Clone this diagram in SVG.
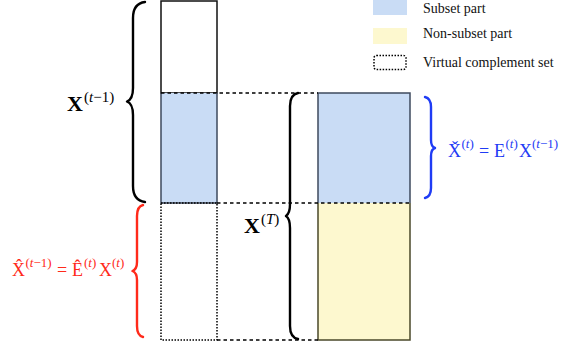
<svg xmlns="http://www.w3.org/2000/svg" width="561" height="346" viewBox="0 0 561 346">
  <style>
    .txt { font-family: "Liberation Serif", "Times New Roman", serif; }
    .sub { fill: #c9dcf5; }
    .non { fill: #fdf8cf; }
    .guide { fill: none; stroke: #000; stroke-width: 1.3; stroke-dasharray: 3.5 3; }
    .dots { fill: none; stroke: #000; stroke-width: 1.5; stroke-dasharray: 1.5 1.5; }
    .brace { fill: none; stroke-width: 2.4; stroke-linecap: round; stroke-linejoin: round; }
    .it { font-style: italic; }
  </style>

  <!-- legend -->
  <g id="legend" class="txt" font-size="14" fill="#111">
    <rect class="sub" x="373" y="0" width="34" height="15"/>
    <text x="423" y="13">Subset part</text>
    <rect class="non" x="373" y="28" width="34" height="16"/>
    <text x="423" y="38">Non-subset part</text>
    <rect class="dots" x="374" y="55.5" width="32" height="14" rx="2.5"/>
    <text x="423" y="67">Virtual complement set</text>
  </g>

  <!-- previous-step matrix column -->
  <g id="col-prev">
    <rect x="161" y="1" width="56" height="92" fill="#fff" stroke="#111" stroke-width="1.5"/>
    <rect class="sub" x="161" y="93" width="56" height="110"/>
    <path d="M161,93 V203 H217 V93" fill="none" stroke="#3e4a5e" stroke-width="1.5"/>
    <rect class="dots" x="161" y="203" width="56" height="137"/>
  </g>

  <!-- current-step matrix column -->
  <g id="col-cur">
    <rect class="sub" x="318" y="93" width="92" height="110"/>
    <rect class="non" x="318" y="203" width="92" height="137"/>
    <path d="M318,203 V93 H410 V203" fill="none" stroke="#3e4a5e" stroke-width="1.5"/>
    <path d="M318,203 V340 H410 V203" fill="none" stroke="#4a482a" stroke-width="1.5"/>
  </g>

  <!-- dashed guide lines between the columns -->
  <g id="connectors">
    <line class="guide" x1="161" y1="93" x2="318" y2="93"/>
    <line class="guide" x1="217" y1="203" x2="410" y2="203"/>
    <line class="guide" x1="217" y1="340" x2="318" y2="340"/>
  </g>

  <!-- braces -->
  <g id="brace-prev">
    <path class="brace" stroke="#000" d="M145,2 C137,3 133,8 133,18 L133,88 C133,96 131,100 127,101.5 C131,103 133,107 133,115 L133,186 C133,196 137,201 145,202"/>
  </g>
  <g id="brace-virtual">
    <path class="brace" stroke="#ff2a1a" stroke-width="2" d="M143,205 C139,206 137,209 137,216 L137,262 C137,267 135,270 132.5,271 C135,272 137,275 137,280 L137,326 C137,333 139,336 143,337"/>
  </g>
  <g id="brace-cur">
    <path class="brace" stroke="#000" stroke-width="2" d="M298,93 C293,94 290,98 290,106 L290,204 C290,210 289,214 286,216 C289,218 290,222 290,228 L290,326 C290,334 293,338 298,339"/>
  </g>
  <g id="brace-subset">
    <path class="brace" stroke="#1f3cf5" stroke-width="2" d="M425,97 C429,98 431,101 431,107 L431,140 C431,145 432,147 435,148 C432,149 431,151 431,156 L431,188 C431,194 429,197 425,198"/>
  </g>

  <!-- labels -->
  <g id="label-prev" class="txt" fill="#000">
    <text x="67" y="111" font-size="22" font-weight="bold">X</text>
    <text x="84" y="102" font-size="15">(<tspan class="it">t</tspan>−1)</text>
  </g>
  <g id="label-cur" class="txt" fill="#000">
    <text x="244" y="233" font-size="22" font-weight="bold">X</text>
    <text x="261" y="224" font-size="15">(<tspan class="it">T</tspan>)</text>
  </g>
  <g id="label-virtual" class="txt" fill="#ff2a1a">
    <text x="12" y="276" font-size="18">X̂</text>
    <text x="25.5" y="267" font-size="13">(<tspan class="it">t</tspan>−1)</text>
    <text x="57" y="276" font-size="18">=</text>
    <text x="72" y="276" font-size="18">Ê</text>
    <text x="84" y="267" font-size="13">(<tspan class="it">t</tspan>)</text>
    <text x="99" y="276" font-size="18">X</text>
    <text x="112" y="267" font-size="13">(<tspan class="it">t</tspan>)</text>
  </g>
  <g id="label-subset" class="txt" fill="#1f3cf5">
    <text x="448" y="157" font-size="18">X̌</text>
    <text x="461.5" y="148" font-size="13">(<tspan class="it">t</tspan>)</text>
    <text x="479" y="157" font-size="18">=</text>
    <text x="494" y="157" font-size="18">E</text>
    <text x="505.5" y="148" font-size="13">(<tspan class="it">t</tspan>)</text>
    <text x="519" y="157" font-size="18">X</text>
    <text x="532" y="148" font-size="13">(<tspan class="it">t</tspan>−1)</text>
  </g>
</svg>
